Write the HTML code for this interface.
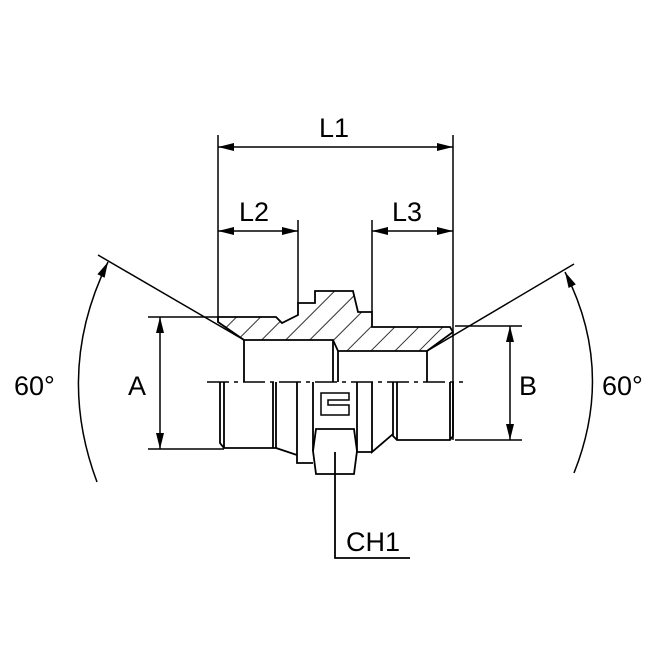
<!DOCTYPE html>
<html><head><style>html,body{margin:0;padding:0;background:#fff}svg{display:block}</style></head><body>
<svg width="670" height="670" viewBox="0 0 670 670" xmlns="http://www.w3.org/2000/svg">
<defs>
<pattern id="h" patternUnits="userSpaceOnUse" width="17" height="17" patternTransform="rotate(45)"><line x1="0" y1="0" x2="0" y2="17" stroke="#000" stroke-width="1.6"/></pattern>
</defs>
<g fill="none" stroke="#000" stroke-width="1.8">
<path d="M218,317 L276,317 L282,323 L298,315 L298,303 L315,303 L315,291 L353,291 L358,312 L372,312 L372,327 L393,327 L450,327 L453,332 L427,351 L338,351 L333,340 L244,340 L218,322 Z" fill="url(#h)"/>
<path d="M244,340 L244,382 M333,340 L333,382 M338,351 L338,382 M427,351 L427,382"/>
<path d="M207,382 L463,382" stroke-dasharray="22,5,4,5" stroke-width="1.4"/>
<path d="M220,382 L220,443 L224,448 L276,448 L276,382 M224,382 L224,448 M273,382 L273,448"/>
<path d="M276,448 L297,455 L297,463 L313,463 M297,382 L297,455 M313,382 L313,451 L316,474 L354,474 L357,451 L357,382"/>
<path d="M313,451 L316,429 L354,429 L357,451"/>
<path d="M372,382 L372,452 L393,434 M357,452 L372,452"/>
<path d="M393,382 L393,436 L397,440 L450,440 L453,436 L453,382 M397,382 L397,440 M450,382 L450,440"/>
<path d="M321,393 L349,393 L349,400 L328,400 L328,405 L349,405 L349,415 L321,415 Z" stroke-width="1.5"/>
<path d="M335,452 L335,558 L410,558"/>
<path d="M218,135 L218,322 M298,220 L298,303 M372,220 L372,312 M453,135 L453,440" stroke-width="1.5"/>
<path d="M218,147 L453,147 M218,231 L298,231 M372,231 L453,231" stroke-width="1.5"/>
<path d="M148,317 L218,317 M148,449 L224,449 M455,326 L522,326 M455,440 L522,440" stroke-width="1.5"/>
<path d="M160,317 L160,449 M510,326 L510,440" stroke-width="1.5"/>
<path d="M98,255 L244,340 M574,264 L427,351" stroke-width="1.5"/>
<path d="M97,482 Q55,370 108,262" stroke-width="1.5"/>
<path d="M574,473 Q615,370 565,272" stroke-width="1.5"/>
</g>
<g fill="#000">
<polygon points="218,147 234,143 234,151"/>
<polygon points="453,147 437,143 437,151"/>
<polygon points="218,231 234,227 234,235"/>
<polygon points="298,231 282,227 282,235"/>
<polygon points="372,231 388,227 388,235"/>
<polygon points="453,231 437,227 437,235"/>
<polygon points="160,317 156,333 164,333"/>
<polygon points="160,449 156,433 164,433"/>
<polygon points="510,326 506,342 514,342"/>
<polygon points="510,440 506,424 514,424"/>
<polygon points="108,262 104.6,277.8 97.4,274.2"/>
<polygon points="565,272 575.8,284.4 568.6,288"/>
</g>
<g font-family="'Liberation Sans',sans-serif" font-size="27" fill="#000">
<text x="319" y="137">L1</text>
<text x="239" y="221">L2</text>
<text x="392" y="221">L3</text>
<text x="128" y="395">A</text>
<text x="519" y="395">B</text>
<text x="14" y="395">60°</text>
<text x="602" y="395">60°</text>
<text x="346" y="551">CH1</text>
</g>
</svg>
</body></html>
